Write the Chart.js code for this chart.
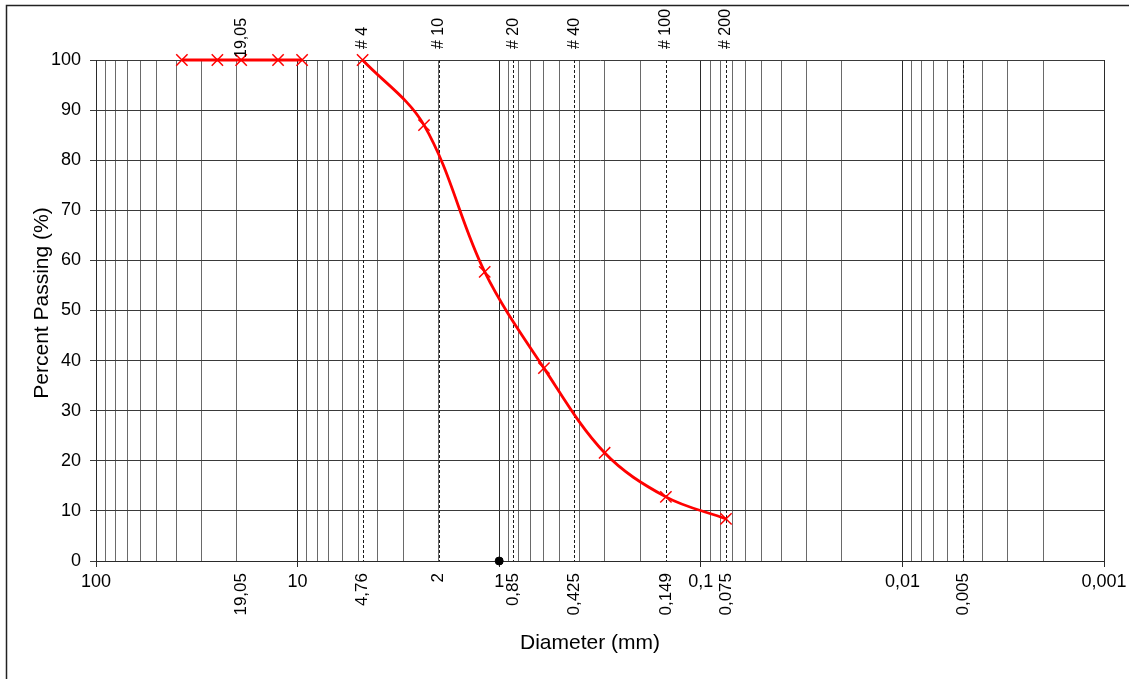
<!DOCTYPE html>
<html>
<head>
<meta charset="utf-8">
<script src="https://cdn.jsdelivr.net/npm/chart.js@4.4.1/dist/chart.umd.min.js"></script>
<style>
  html, body { margin: 0; padding: 0; background: #ffffff; }
  #wrap { width: 1129px; height: 679px; position: relative; }
</style>
</head>
<body>
<div id="wrap"><canvas id="grading" width="1129" height="679"></canvas></div>
<script>
// Sieve analysis: coarse fraction (all passing) and fine fraction
const coarseSizes   = [37.5, 25, 19.05, 12.5, 9.5];
const coarsePassing = [100, 100, 100, 100, 100];
const fineSizes     = [4.76, 2.36, 1.18, 0.6, 0.3, 0.149, 0.075];
const finePassing   = [100, 87, 57.7, 38.5, 21.6, 12.8, 8.4];
const dotSizes      = [1];
const dotPassing    = [0];

// Reference sieve openings (dashed verticals) and their captions
const sieveLineSizes = [4.76, 2, 0.85, 0.425, 0.149, 0.075, 0.005];
const topLabelSizes  = [19.05, 4.76, 2, 0.85, 0.425, 0.149, 0.075];
const topLabels      = ['19,05', '# 4', '# 10', '# 20', '# 40', '# 100', '# 200'];
const sizeLabelSizes = [19.05, 4.76, 2, 0.85, 0.425, 0.149, 0.075, 0.005];
const sizeLabels     = ['19,05', '4,76', '2', '0,85', '0,425', '0,149', '0,075', '0,005'];

// Axis extents
const diameterMin = 0.001;
const diameterMax = 100;
const passingMin = 0;
const passingMax = 100;
const passingStep = 10;

const FONT = '"Liberation Sans", Arial, sans-serif';

// Log grid: 1..9 x 10^k across the diameter range
function logGridValues(min, max) {
  const out = [];
  for (let e = Math.round(Math.log10(min)); e < Math.round(Math.log10(max)); e++) {
    for (let m = 1; m <= 9; m++) out.push(Number((m * Math.pow(10, e)).toPrecision(3)));
  }
  out.push(max);
  return out;
}
function isDecade(v) {
  const l = Math.log10(v);
  return Math.abs(l - Math.round(l)) < 1e-9;
}
function commaNumber(v) {
  return String(v).replace('.', ',');
}

const toPoints = (xs, ys) => xs.map((x, i) => ({ x: x, y: ys[i] }));

const sievePlugin = {
  id: 'sieveAnnotations',
  beforeDatasetsDraw(chart) {
    const { ctx, chartArea, scales: { x } } = chart;
    ctx.save();
    ctx.strokeStyle = '#1a1a1a';
    ctx.lineWidth = 1;
    ctx.setLineDash([3, 2]);
    sieveLineSizes.forEach(v => {
      const px = Math.round(x.getPixelForValue(v)) + 0.5;
      ctx.beginPath();
      ctx.moveTo(px, chartArea.top);
      ctx.lineTo(px, chartArea.bottom);
      ctx.stroke();
    });
    ctx.restore();
  },
  afterDraw(chart) {
    const { ctx, chartArea, scales: { x } } = chart;
    ctx.save();
    ctx.fillStyle = '#000';
    ctx.font = '16px ' + FONT;
    ctx.textBaseline = 'middle';
    // captions above the plot
    topLabelSizes.forEach((v, i) => {
      const px = x.getPixelForValue(v);
      ctx.save();
      ctx.translate(px, topLabels[i].startsWith('#') ? chartArea.top - 11 : chartArea.top - 2);
      ctx.rotate(-Math.PI / 2);
      ctx.textAlign = 'left';
      ctx.fillText(topLabels[i], 0, 0);
      ctx.restore();
    });
    // opening sizes below the axis
    ctx.font = '17px ' + FONT;
    sizeLabelSizes.forEach((v, i) => {
      const px = x.getPixelForValue(v);
      ctx.save();
      ctx.translate(px, chartArea.bottom + 12);
      ctx.rotate(-Math.PI / 2);
      ctx.textAlign = 'right';
      ctx.fillText(sizeLabels[i], 0, 0);
      ctx.restore();
    });
    // axis titles
    ctx.font = '21px ' + FONT;
    ctx.textAlign = 'center';
    ctx.fillText('Diameter (mm)', 590, 643);
    ctx.save();
    ctx.translate(42, 303);
    ctx.rotate(-Math.PI / 2);
    ctx.fillText('Percent Passing (%)', 0, 0);
    ctx.restore();
    // outer frame
    ctx.strokeStyle = '#222';
    ctx.lineWidth = 1.5;
    ctx.beginPath();
    ctx.moveTo(6.5, chart.height + 2);
    ctx.lineTo(6.5, 5.5);
    ctx.lineTo(chart.width + 2, 5.5);
    ctx.stroke();
    ctx.restore();
  }
};

const lineStyle = {
  borderColor: '#ff0000',
  borderWidth: 2.8,
  pointStyle: 'crossRot',
  pointRadius: 8,
  pointHoverRadius: 8,
  pointBorderColor: '#ff0000',
  pointBorderWidth: 1.5,
  pointBackgroundColor: '#ff0000',
  showLine: true,
  fill: false,
  clip: false
};

new Chart(document.getElementById('grading'), {
  type: 'scatter',
  data: {
    datasets: [
      Object.assign({ label: 'coarse', data: toPoints(coarseSizes, coarsePassing), tension: 0 }, lineStyle),
      Object.assign({ label: 'fine', data: toPoints(fineSizes, finePassing), tension: 0.35 }, lineStyle),
      {
        label: 'origin', data: toPoints(dotSizes, dotPassing),
        pointStyle: 'circle', pointRadius: 4, pointHoverRadius: 4,
        backgroundColor: '#000', borderColor: '#000', showLine: false, clip: false
      }
    ]
  },
  options: {
    responsive: false,
    animation: false,
    devicePixelRatio: 1,
    layout: { padding: { top: 60, right: 25, bottom: 0, left: 0 } },
    plugins: { legend: { display: false }, tooltip: { enabled: false } },
    scales: {
      x: {
        type: 'logarithmic',
        reverse: true,
        min: diameterMin,
        max: diameterMax,
        afterBuildTicks(scale) {
          scale.ticks = logGridValues(diameterMin, diameterMax).map(v => ({ value: v, major: false }));
        },
        afterFit(scale) { scale.height = 118; },
        grid: {
          color: ctx => (ctx.tick && isDecade(ctx.tick.value)) ? '#2a2a2a' : '#6a6a6a',
          lineWidth: 1,
          drawTicks: true,
          tickLength: 6,
          tickColor: ctx => (ctx.tick && isDecade(ctx.tick.value)) ? '#2a2a2a' : 'rgba(0,0,0,0)'
        },
        border: { display: true, color: '#2a2a2a', width: 1 },
        ticks: {
          autoSkip: false,
          maxRotation: 0,
          minRotation: 0,
          padding: 4,
          color: '#000',
          font: { family: FONT, size: 18 },
          callback: v => isDecade(v) ? commaNumber(v) : ''
        }
      },
      y: {
        min: passingMin,
        max: passingMax,
        afterFit(scale) { scale.width = 96; },
        grid: { color: '#3a3a3a', lineWidth: 1, tickLength: 6, tickColor: '#3a3a3a' },
        border: { display: true, color: '#2a2a2a', width: 1 },
        ticks: {
          stepSize: passingStep,
          padding: 9,
          color: '#000',
          font: { family: FONT, size: 18 }
        }
      }
    }
  },
  plugins: [sievePlugin]
});
</script>
</body>
</html>
